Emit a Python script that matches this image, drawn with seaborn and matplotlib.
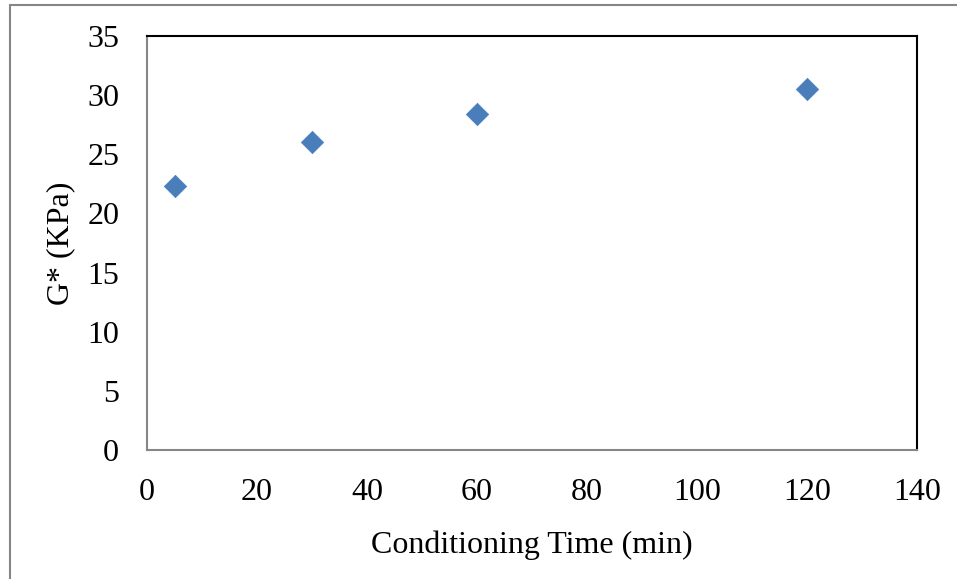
import matplotlib
matplotlib.use('Agg')
import matplotlib.pyplot as plt
import seaborn as sns
import pandas as pd

# values
conditioning_time = [5, 30, 60, 120]
g_star = [22.3, 26.0, 28.4, 30.5]

df = pd.DataFrame({'time': conditioning_time, 'g_star': g_star})

sns.set_style('white')
plt.rcParams['font.family'] = ['Liberation Serif', 'DejaVu Serif']
plt.rcParams['text.color'] = 'black'
plt.rcParams['xtick.color'] = 'black'
plt.rcParams['ytick.color'] = 'black'
plt.rcParams['axes.labelcolor'] = 'black'

fig = plt.figure(figsize=(9.57, 5.79), dpi=100)
ax = fig.add_axes([147 / 957, 1 - 450 / 579, (917 - 147) / 957, (450 - 36) / 579])

sns.scatterplot(data=df, x='time', y='g_star', marker='D', s=130,
                color='#4a7ebb', edgecolor='#4a7ebb', linewidth=0.5, ax=ax)

ax.set_xlim(0, 140)
ax.set_ylim(0, 35)
ax.set_xticks(range(0, 141, 20))
ax.set_yticks(range(0, 36, 5))
ax.tick_params(axis='both', labelsize=23, length=0, labelcolor='black')
ax.tick_params(axis='x', pad=20)
ax.tick_params(axis='y', pad=20)
ax.set_xlabel('Conditioning Time (min)', fontsize=23, labelpad=17, color='black')
ax.set_ylabel('G* (KPa)', fontsize=23, labelpad=9, color='black')

for side in ['top', 'right']:
    ax.spines[side].set_color('black')
    ax.spines[side].set_linewidth(1.5)
for side in ['left', 'bottom']:
    ax.spines[side].set_color('#868686')
    ax.spines[side].set_linewidth(1.5)

# outer chart border (partly cropped in the reference)
fig.add_artist(plt.Line2D([10 / 957, 10 / 957], [0, 1 - 5 / 579], transform=fig.transFigure,
                          color='#868686', linewidth=1.5))
fig.add_artist(plt.Line2D([10 / 957, 1], [1 - 5 / 579, 1 - 5 / 579], transform=fig.transFigure,
                          color='#868686', linewidth=1.5))

fig.savefig('out.png', dpi=100)
